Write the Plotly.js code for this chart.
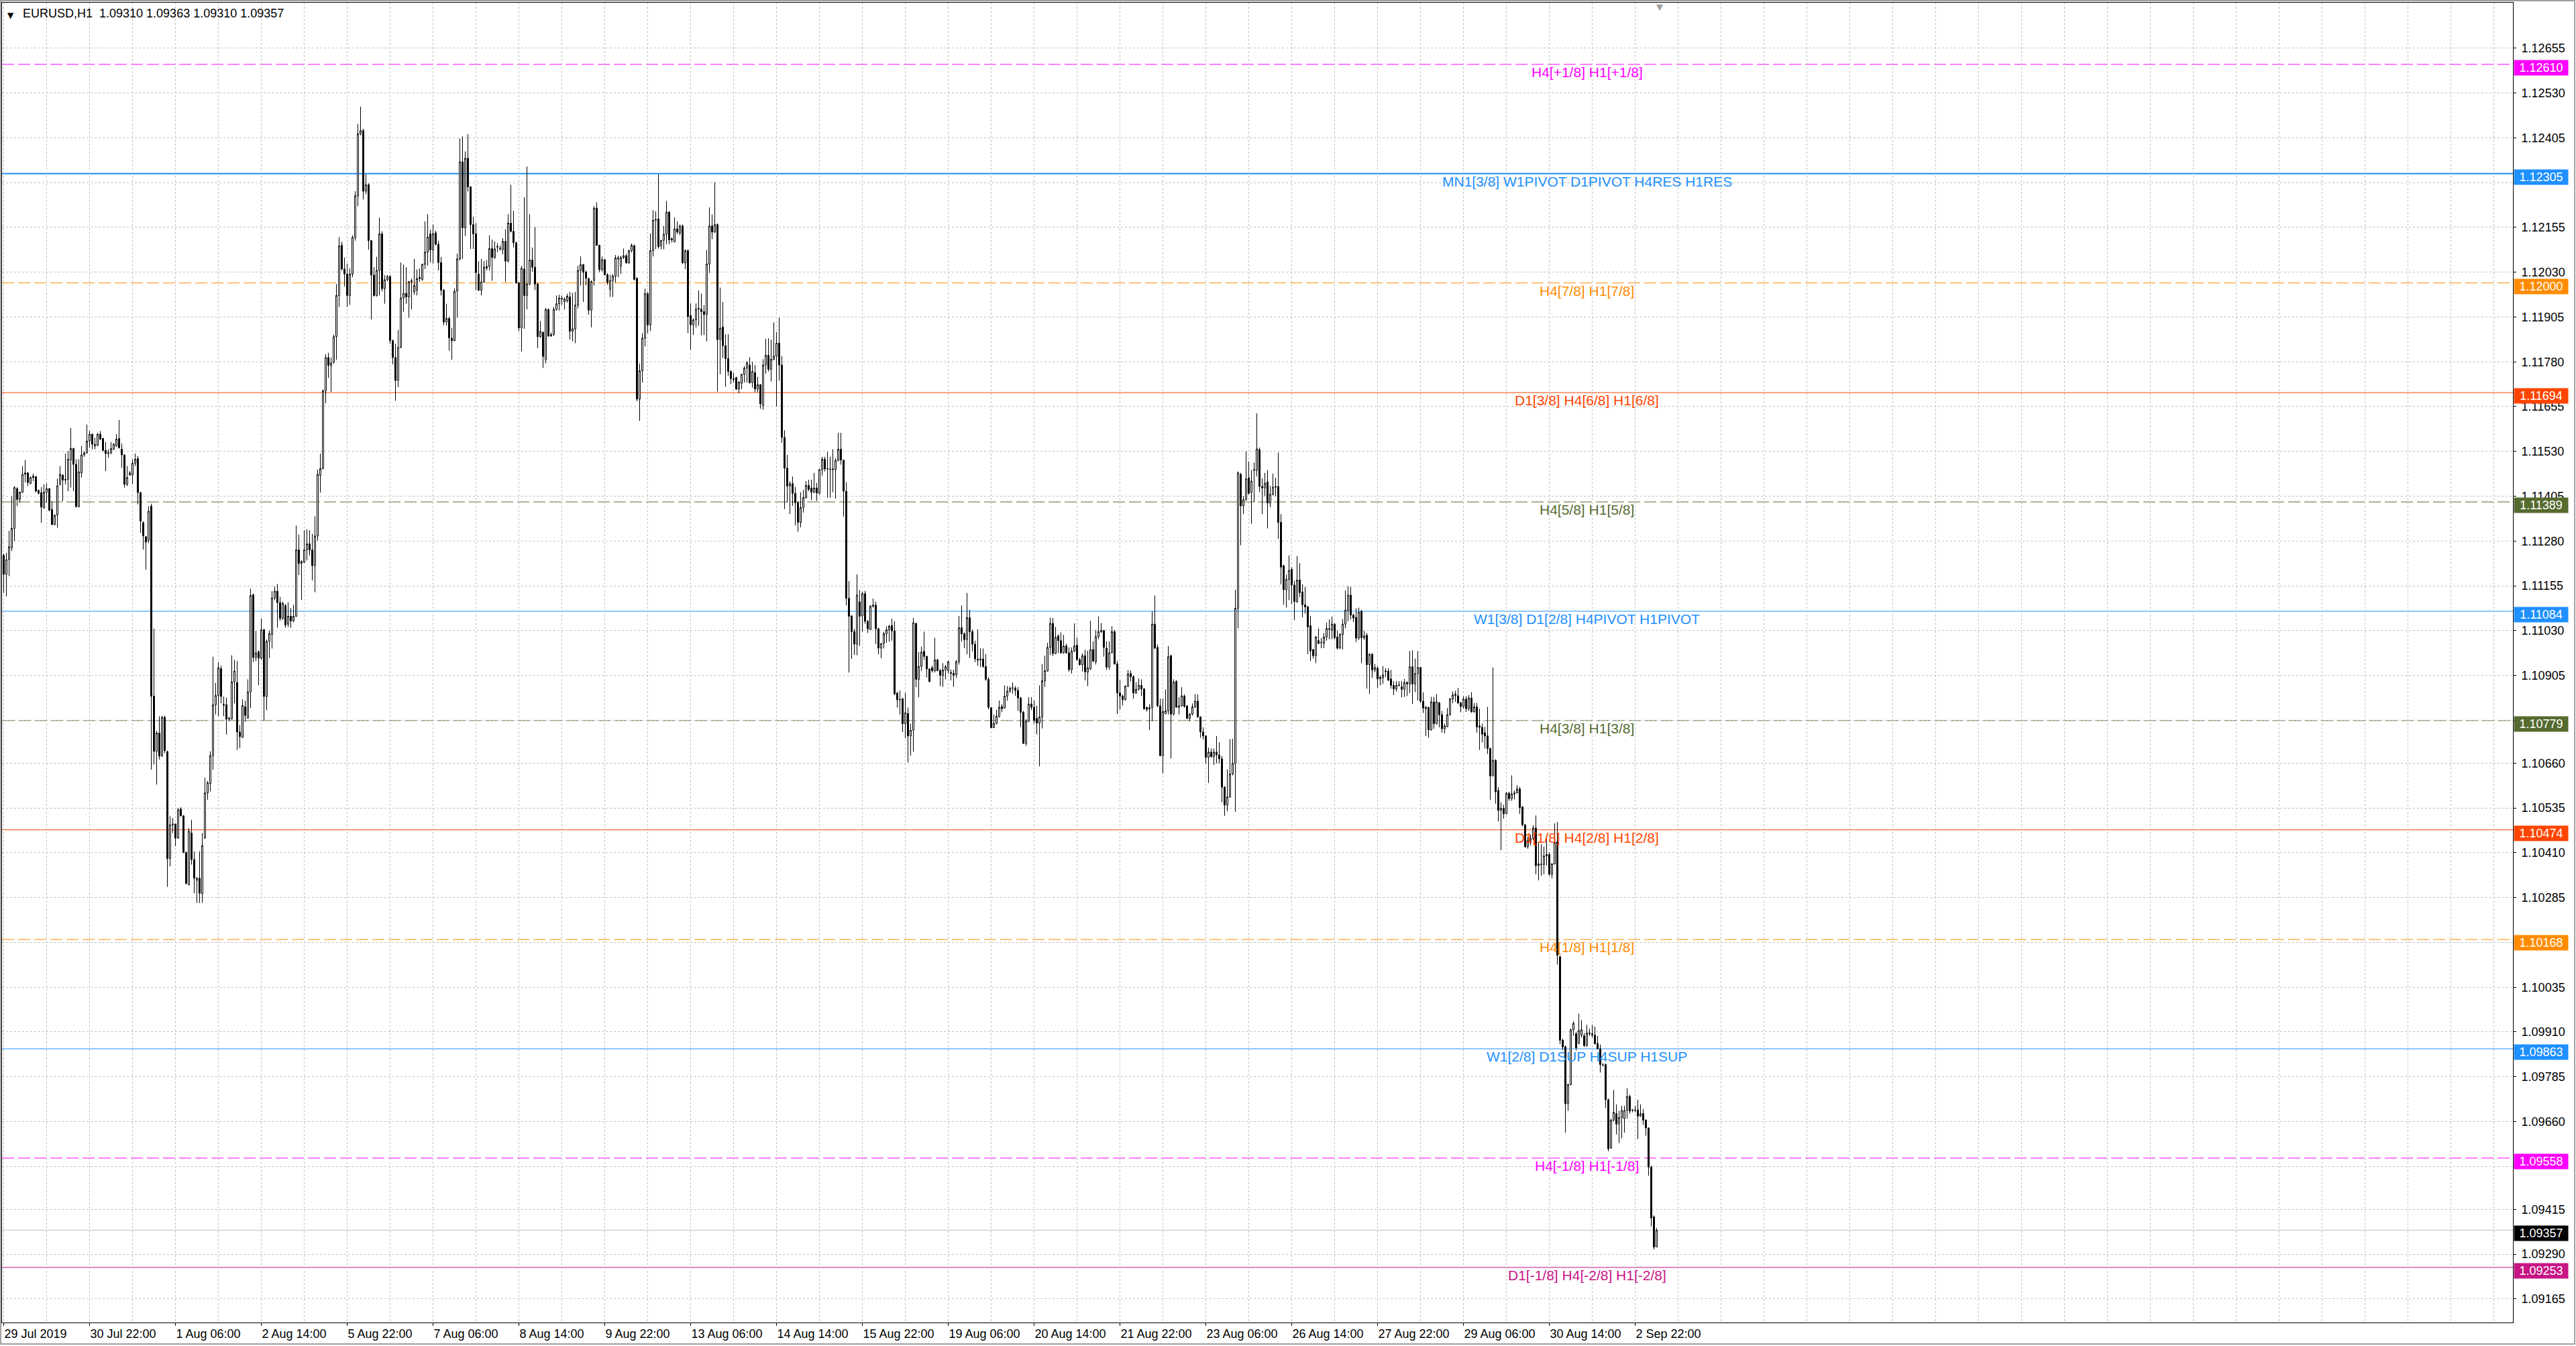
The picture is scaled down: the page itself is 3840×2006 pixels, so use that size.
<!DOCTYPE html>
<html>
<head>
<meta charset="utf-8">
<script src="https://cdn.plot.ly/plotly-3.0.1.min.js"></script>
<style>
  html, body { margin: 0; padding: 0; background: #fff; }
  #chart { width: 3840px; height: 2006px; }
</style>
</head>
<body>
<div id="chart"></div>
<script>
// EURUSD H1 bars, 29 Jul 2019 14:00 .. 3 Sep 2019 06:00
// prices kept as points above 1.00000 (11240 -> 1.11240)
var opens = [
11240,11187,11228,11261,11315,11426,11396,11416,11466,11470,
11441,11457,11459,11421,11415,11373,11416,11426,11368,11326,
11352,11438,11464,11450,11452,11506,11538,11494,11376,11470,
11520,11526,11559,11578,11545,11547,11578,11566,11533,11524,
11526,11536,11545,11566,11536,11520,11438,11464,11464,11497,
11510,11415,11331,11292,11282,11377,10847,10693,10744,10680,
10788,10692,10394,10488,10490,10451,10532,10513,10411,10321,
10465,10391,10333,10339,10296,10451,10577,10603,10681,10823,
10849,10924,10824,10823,10783,10783,10887,10885,10747,10732,
10817,10786,10859,11130,10955,10971,10953,11032,10846,11000,
11019,11121,11140,11108,11064,11100,11048,11070,11057,11070,
11255,11217,11221,11255,11272,11255,11211,11294,11463,11482,
11699,11792,11769,11779,11850,11965,12105,12039,12025,11965,
12025,12127,12243,12416,12425,12256,12274,12118,12022,11965,
12035,12137,11984,12009,12018,11839,11792,11728,11820,11958,
11971,11961,12003,11975,11980,12012,12010,12052,12086,12137,
12092,12140,12108,12057,11980,11891,11901,11846,11839,11977,
12067,12338,12154,12348,12268,12163,12137,12025,11980,12003,
12041,12046,12096,12071,12100,12095,12093,12116,12061,12167,
12144,12112,12000,11875,12039,11965,11997,12064,12044,11997,
11850,11862,11786,11926,11852,11856,11926,11942,11955,11948,
11950,11961,11865,11872,11938,12035,12051,12030,12012,11924,
12007,12209,12105,12037,12065,12023,11982,12007,12019,12067,
12047,12071,12076,12056,12090,12104,12013,11676,11755,11846,
11970,11883,12090,12175,12179,12104,12119,12136,12198,12120,
12115,12151,12140,12159,12056,12090,11909,11883,11897,11927,
11927,11920,11912,12053,12159,12142,12163,11842,11877,11825,
11789,11753,11733,11736,11704,11720,11745,11762,11771,11722,
11750,11704,11716,11658,11771,11798,11759,11787,11796,11832,
11771,11569,11483,11433,11440,11413,11387,11332,11373,11401,
11435,11428,11416,11428,11413,11479,11508,11481,11481,11481,
11479,11505,11536,11506,11419,11120,11071,11027,10992,11110,
11071,11133,11056,11033,11098,11101,11035,10981,10994,11021,
11032,11044,11029,10856,10838,10840,10770,10799,10736,10752,
11050,10894,10930,10972,10958,10923,10926,10918,10948,10918,
10905,10920,10918,10913,10911,10907,10943,11038,11021,11005,
11066,11027,10992,10947,10948,10951,10930,10894,10815,10759,
10771,10791,10818,10814,10847,10861,10869,10869,10863,10842,
10802,10715,10777,10825,10816,10785,10772,10789,10890,10917,
10983,11050,10966,11015,11002,10968,10987,10968,10921,10973,
10989,10949,10935,10960,10914,10923,10977,10943,11013,11027,
11030,10981,10928,10968,11027,10937,10856,10847,10837,10875,
10910,10901,10856,10866,10877,10867,10815,10811,10815,11048,
10983,10820,10681,10798,10806,10960,10797,10888,10816,10820,
10847,10820,10785,10797,10817,10833,10789,10747,10736,10676,
10691,10678,10691,10683,10672,10593,10543,10566,10630,10659,
11092,11466,11378,11395,11456,11416,11477,11477,11535,11432,
11428,11445,11386,11410,11430,11432,11332,11211,11144,11173,
11201,11157,11111,11171,11138,11102,11096,11044,10977,10960,
11002,10996,10994,11012,11033,11031,11048,11012,10981,11019,
11048,11087,11129,11073,11067,11009,11084,11010,11017,10935,
10964,10920,10925,10895,10898,10915,10917,10895,10877,10867,
10877,10873,10866,10885,10881,10929,10881,10910,10927,10833,
10812,10816,10753,10831,10770,10828,10795,10756,10762,10795,
10839,10848,10848,10828,10818,10839,10812,10842,10803,10817,
10764,10760,10745,10736,10701,10626,10668,10584,10528,10534,
10519,10576,10561,10574,10577,10588,10538,10488,10427,10444,
10450,10479,10374,10377,10377,10401,10405,10350,10379,10441,
10120,9887,9869,9710,9763,9916,9905,9878,9901,9899,
9872,9905,9901,9901,9878,9863,9818,9819,9721,9586,
9664,9682,9653,9671,9668,9691,9730,9692,9692,9692,
9675,9682,9664,9642,9533,9394,9310
];
var highs = [
11245,11247,11308,11405,11433,11430,11418,11489,11506,11472,
11460,11468,11462,11424,11430,11438,11440,11428,11391,11354,
11454,11489,11466,11524,11531,11595,11540,11508,11508,11545,
11530,11605,11587,11580,11568,11582,11587,11568,11556,11536,
11556,11553,11578,11618,11552,11522,11489,11475,11508,11524,
11517,11417,11335,11294,11377,11384,11036,10750,10791,10792,
10793,10695,10512,10507,10492,10535,10537,10515,10413,10479,
10502,10414,10342,10414,10465,10619,10610,10693,10957,10884,
10942,10932,10846,10843,10790,10961,10948,10945,10766,10838,
10834,10894,11147,11133,11029,10975,11064,11035,11005,11030,
11140,11153,11160,11124,11111,11104,11109,11093,11102,11323,
11298,11226,11310,11313,11310,11300,11349,11479,11524,11703,
11801,11805,11792,11856,11997,12128,12115,12071,12054,12041,
12133,12256,12444,12492,12430,12303,12278,12120,12044,12073,
12182,12144,12022,12022,12022,11842,11830,11869,12057,12051,
12044,12006,12012,12067,12038,12041,12054,12172,12192,12149,
12163,12146,12118,12073,11983,11942,11905,11875,11985,12082,
12403,12409,12367,12415,12270,12185,12167,12061,12067,12061,
12064,12133,12121,12116,12111,12105,12125,12150,12192,12274,
12201,12115,12003,12048,12239,12325,12192,12099,12156,12000,
11894,11865,11930,11929,11862,11933,11965,11967,11965,11960,
11970,11975,11972,11975,12048,12074,12053,12035,12015,12007,
12214,12225,12107,12074,12067,12027,12023,12025,12078,12076,
12076,12096,12081,12093,12110,12107,12016,11775,11860,11984,
11975,12138,12203,12200,12303,12120,12159,12229,12200,12127,
12183,12172,12163,12163,12094,12094,11943,11901,11943,11979,
11970,11938,12092,12211,12191,12281,12166,11987,11947,11857,
11857,11756,11750,11738,11726,11747,11768,11782,11793,11780,
11771,11738,11718,11787,11844,11846,11842,11890,11863,11903,
11796,11589,11520,11447,11460,11431,11390,11416,11422,11447,
11451,11451,11470,11442,11482,11515,11515,11529,11515,11536,
11511,11582,11582,11507,11444,11168,11072,11035,11187,11143,
11138,11141,11059,11101,11119,11111,11038,10995,11027,11042,
11046,11063,11056,10858,10863,10842,10856,10815,10770,11065,
11052,10970,10985,11027,10960,10925,10932,11010,10951,10923,
10939,10934,10946,10921,10921,10948,11071,11100,11025,11135,
11088,11033,11002,11033,10980,10980,10964,10900,10816,10796,
10809,10835,10825,10877,10875,10874,10885,10875,10872,10845,
10806,10783,10844,10844,10835,10820,10877,10937,10960,10996,
11066,11065,11040,11019,11025,11018,10993,10983,10983,11050,
11010,10954,10966,10977,10974,11057,11000,11032,11070,11051,
11032,11000,11000,11042,11032,10945,10892,10852,10877,10920,
10918,10905,10886,10897,10894,10870,10818,10825,11084,11128,
10991,10840,10840,10866,10987,10962,10894,10892,10844,10872,
10852,10822,10799,10827,10853,10852,10791,10760,10738,10703,
10701,10701,10736,10718,10680,10596,10643,10727,10728,11144,
11474,11470,11405,11530,11502,11478,11499,11636,11541,11455,
11470,11478,11434,11468,11456,11527,11355,11214,11186,11240,
11207,11169,11238,11218,11159,11152,11099,11071,10979,11015,
11036,11009,11023,11052,11061,11069,11051,11031,11023,11062,
11142,11154,11152,11077,11092,11094,11087,11029,11023,10967,
10967,10937,10931,10904,10931,10925,10925,10920,10889,10889,
10889,10889,10895,10889,10973,10975,10952,10973,10929,10858,
10820,10817,10845,10845,10853,10831,10806,10770,10814,10842,
10860,10862,10870,10831,10847,10847,10850,10858,10828,10828,
10812,10770,10761,10817,10703,10927,10671,10593,10551,10544,
10580,10580,10626,10584,10599,10594,10540,10490,10455,10461,
10487,10514,10439,10434,10427,10452,10412,10381,10492,10496,
10122,9891,9872,9766,9919,9940,9910,9961,9943,9907,
9930,9919,9930,9925,9899,9875,9823,9822,9724,9668,
9748,9708,9690,9704,9704,9753,9735,9695,9704,9721,
9708,9695,9666,9644,9537,9398,9363
];
var lows = [
11135,11126,11182,11252,11280,11377,11387,11414,11443,11433,
11438,11447,11416,11410,11331,11370,11387,11363,11324,11324,
11317,11435,11391,11438,11419,11429,11419,11373,11374,11457,
11515,11524,11540,11536,11536,11545,11562,11530,11475,11512,
11522,11534,11543,11538,11484,11429,11433,11462,11438,11489,
11382,11303,11256,11200,11274,10642,10656,10600,10670,10678,
10688,10315,10372,10465,10428,10449,10511,10409,10321,10319,
10377,10297,10270,10270,10270,10449,10558,10581,10642,10796,
10791,10827,10791,10740,10778,10782,10827,10697,10702,10730,
10776,10784,10814,10942,10945,10878,10949,10779,10808,10953,
10980,11115,11038,11057,11060,11038,11040,11038,11053,11068,
11185,11115,11219,11226,11240,11170,11137,11281,11415,11480,
11664,11735,11696,11775,11786,11933,12035,11990,11933,11939,
12016,12118,12214,12412,12233,12248,12093,11898,11962,11962,
11965,11977,11942,12005,11830,11773,11671,11709,11818,11920,
11942,11903,11926,11967,11965,12003,12006,12039,12048,12057,
12054,12105,12035,11965,11882,11882,11811,11786,11837,11903,
12063,12067,12131,12255,12095,12095,11980,11977,11965,12000,
12035,12035,12006,12067,12086,12090,12080,12003,12057,12141,
12099,11998,11865,11809,11872,11926,11993,12031,11980,11818,
11847,11763,11776,11850,11850,11852,11923,11923,11939,11926,
11945,11842,11837,11832,11929,11993,11947,11993,11911,11876,
11993,12104,12030,12032,12021,11995,11961,11961,12001,12016,
12025,12067,12054,12053,12085,12007,11670,11615,11722,11823,
11860,11866,12074,12094,12096,12094,12094,12108,12108,12113,
12113,12136,12133,12053,12039,11860,11814,11855,11876,11881,
11854,11855,11837,12028,12122,12140,11697,11745,11791,11710,
11741,11718,11722,11701,11692,11704,11722,11722,11719,11708,
11695,11695,11649,11646,11747,11753,11725,11784,11655,11727,
11554,11369,11387,11355,11378,11323,11306,11318,11359,11398,
11419,11394,11414,11392,11410,11462,11474,11401,11401,11416,
11398,11502,11493,11348,11100,10913,10951,10962,10961,10987,
11027,11049,11023,11031,11094,10992,10964,10953,10980,10996,
10999,11002,10850,10815,10796,10747,10730,10662,10681,10692,
10872,10844,10917,10948,10899,10886,10913,10913,10917,10875,
10873,10894,10910,10891,10873,10898,10935,10999,10981,10964,
10954,10972,10942,10932,10928,10926,10890,10810,10758,10758,
10768,10787,10802,10812,10834,10856,10854,10848,10806,10761,
10714,10708,10775,10809,10771,10740,10651,10757,10873,10915,
10962,10959,10964,10967,10965,10965,10965,10915,10910,10970,
10945,10932,10916,10891,10875,10920,10942,10935,11006,11023,
10957,10920,10921,10967,10935,10797,10809,10821,10835,10872,
10888,10840,10853,10863,10847,10809,10804,10752,10777,10978,
10816,10679,10632,10797,10796,10673,10793,10815,10796,10818,
10815,10783,10777,10793,10814,10787,10731,10726,10659,10605,
10676,10655,10659,10659,10551,10513,10526,10563,10626,10524,
11036,11268,11355,11393,11410,11328,11388,11460,11416,11355,
11405,11315,11374,11407,11405,11286,11159,11102,11094,11115,
11104,11059,11107,11123,11067,11077,10964,10945,10952,10939,
10992,10981,10981,11002,11006,11006,11006,10977,10979,10977,
11036,11056,11061,11054,10998,11004,10939,11004,10868,10853,
10898,10914,10870,10877,10881,10900,10889,10868,10850,10860,
10874,10843,10845,10847,10856,10825,10858,10835,10828,10800,
10736,10731,10751,10756,10768,10760,10745,10743,10760,10793,
10827,10831,10825,10802,10812,10803,10806,10801,10801,10745,
10697,10718,10701,10686,10558,10622,10547,10497,10417,10505,
10517,10555,10555,10559,10576,10518,10484,10424,10421,10430,
10445,10350,10333,10346,10350,10374,10346,10339,10377,10098,
9876,9859,9629,9690,9761,9899,9859,9876,9894,9868,
9869,9899,9894,9875,9861,9797,9814,9698,9577,9584,
9660,9624,9600,9613,9629,9668,9682,9686,9686,9611,
9673,9651,9620,9509,9367,9303,9310
];
var closes = [
11187,11228,11264,11315,11429,11396,11416,11466,11470,11443,
11457,11461,11419,11413,11375,11416,11426,11366,11326,11352,
11434,11466,11450,11452,11508,11538,11494,11376,11473,11520,
11526,11559,11578,11550,11550,11578,11564,11533,11524,11526,
11538,11550,11564,11540,11520,11438,11457,11470,11497,11508,
11415,11335,11294,11277,11363,10847,10693,10744,10680,10788,
10695,10394,10488,10490,10451,10530,10513,10411,10325,10470,
10391,10339,10339,10297,10430,10577,10605,10681,10823,10849,
10926,10846,10822,10783,10785,10887,10917,10747,10734,10821,
10793,10859,11128,10955,10968,10953,11032,10846,11000,11022,
11121,11140,11108,11064,11106,11045,11070,11057,11070,11255,
11217,11223,11255,11272,11255,11211,11294,11466,11482,11699,
11792,11770,11777,11850,11965,12103,12039,12025,11965,12025,
12127,12243,12416,12425,12256,12274,12118,12022,11965,12035,
12137,11984,12009,12018,11839,11792,11728,11820,11958,11971,
11961,12003,12006,11993,12012,12016,12052,12086,12128,12092,
12137,12108,12057,11980,11891,11901,11847,11839,11977,12067,
12338,12154,12348,12268,12163,12137,12029,11980,12003,12044,
12046,12096,12071,12095,12102,12097,12116,12061,12167,12144,
12112,12000,11875,12041,11965,11997,12064,12044,11997,11850,
11865,11795,11926,11852,11856,11926,11942,11958,11957,11955,
11963,11865,11872,11938,12035,12051,12030,12013,11924,12004,
12209,12105,12037,12065,12023,12002,12007,12019,12070,12070,
12071,12076,12056,12090,12105,12010,11676,11755,11846,11970,
11883,12090,12175,12177,12101,12119,12136,12198,12120,12124,
12151,12142,12159,12056,12090,11906,11883,11897,11927,11929,
11920,11912,12053,12159,12142,12163,11842,11874,11825,11789,
11753,11733,11731,11704,11723,11745,11762,11777,11722,11753,
11704,11716,11663,11771,11798,11759,11787,11796,11832,11771,
11569,11483,11433,11440,11413,11387,11332,11373,11401,11435,
11424,11416,11428,11414,11479,11508,11481,11482,11480,11479,
11505,11536,11506,11419,11120,11070,11027,10992,11129,11070,
11133,11056,11035,11098,11101,11035,10981,10994,11021,11032,
11042,11029,10853,10837,10837,10770,10801,10736,10752,11052,
10894,10930,10970,10958,10923,10888,10918,10948,10918,10905,
10920,10929,10943,10911,10905,10943,11038,11021,11005,11066,
11027,10992,10951,10950,10951,10930,10894,10816,10759,10771,
10791,10816,10812,10847,10861,10869,10870,10863,10842,10802,
10715,10777,10825,10816,10780,10772,10789,10890,10918,10983,
11050,10966,11011,11002,10968,10987,10968,10921,10973,10987,
10949,10935,10960,10915,10926,10977,10945,11013,11027,11030,
10983,10928,10968,11027,10937,10856,10847,10837,10875,10909,
10901,10856,10866,10877,10867,10812,10810,10815,11048,10981,
10820,10681,10804,10806,10957,10797,10886,10816,10820,10848,
10818,10785,10797,10817,10833,10789,10747,10736,10676,10691,
10678,10691,10683,10672,10593,10543,10566,10630,10659,11092,
11470,11378,11395,11453,11413,11447,11479,11537,11432,11428,
11441,11386,11410,11430,11432,11332,11207,11144,11173,11198,
11157,11111,11171,11136,11102,11096,11040,10973,10960,11012,
10994,10997,11012,11036,11035,11048,11010,10981,11019,11048,
11087,11129,11073,11065,11009,11081,11010,11015,10935,10964,
10920,10927,10895,10900,10906,10917,10892,10877,10867,10877,
10878,10866,10885,10881,10929,10881,10910,10927,10833,10814,
10816,10753,10831,10770,10831,10795,10756,10764,10795,10839,
10850,10853,10828,10818,10839,10812,10842,10803,10817,10761,
10760,10741,10736,10701,10624,10668,10580,10528,10534,10519,
10576,10561,10574,10577,10588,10536,10488,10427,10444,10450,
10479,10374,10379,10378,10401,10405,10350,10379,10439,10124,
9887,9868,9710,9763,9916,9934,9866,9914,9916,9872,
9907,9907,9905,9877,9863,9819,9818,9721,9584,9664,
9686,9653,9671,9691,9691,9730,9689,9692,9691,9675,
9682,9664,9642,9533,9391,9310,9357
];

// bottom time scale, one label every 32 bars starting at bar 0
var timeLabels = ["29 Jul 2019", "30 Jul 22:00", "1 Aug 06:00", "2 Aug 14:00", "5 Aug 22:00",
  "7 Aug 06:00", "8 Aug 14:00", "9 Aug 22:00", "13 Aug 06:00", "14 Aug 14:00",
  "15 Aug 22:00", "19 Aug 06:00", "20 Aug 14:00", "21 Aug 22:00", "23 Aug 06:00",
  "26 Aug 14:00", "27 Aug 22:00", "29 Aug 06:00", "30 Aug 14:00", "2 Sep 22:00"];

// price scale labels (blank ones sit under the coloured level tags)
var priceLabels = ["1.12655", "1.12530", "1.12405", "1.12280", "1.12155", "1.12030", "1.11905",
  "1.11780", "1.11655", "1.11530", "1.11405", "1.11280", "1.11155", "1.11030", "1.10905",
  "1.10780", "1.10660", "1.10535", "1.10410", "1.10285", "1.10160", "1.10035", "1.09910",
  "1.09785", "1.09660", "1.09535", "1.09415", "1.09290", "1.09165"];
var hiddenLabels = ["1.12280", "1.10780", "1.10160", "1.09535"];

// murrey / pivot levels drawn by the indicator
var levelPrices = [1.12610, 1.12305, 1.12000, 1.11694, 1.11389, 1.11084, 1.10779,
  1.10474, 1.10168, 1.09863, 1.09558, 1.09253];
var levelNames = ["H4[+1/8] H1[+1/8]", "MN1[3/8] W1PIVOT D1PIVOT H4RES H1RES", "H4[7/8] H1[7/8]",
  "D1[3/8] H4[6/8] H1[6/8]", "H4[5/8] H1[5/8]", "W1[3/8] D1[2/8] H4PIVOT H1PIVOT", "H4[3/8] H1[3/8]",
  "D1[1/8] H4[2/8] H1[2/8]", "H4[1/8] H1[1/8]", "W1[2/8] D1SUP H4SUP H1SUP", "H4[-1/8] H1[-1/8]",
  "D1[-1/8] H4[-2/8] H1[-2/8]"];

// styles for the levels
var levelColors = ["#ff00ff", "#1e90ff", "#ff8c00", "#ff4500", "#556b2f", "#1e90ff", "#556b2f",
  "#ff4500", "#ff8c00", "#1e90ff", "#ff00ff", "#c71585"];
var levelDash = ["18px,6px", "solid", "18px,6px", "solid", "18px,6px", "solid", "18px,6px",
  "solid", "18px,6px", "solid", "18px,6px", "solid"];
var levelWidth = [1, 2, 1, 1, 1, 1, 1, 1, 1, 1, 1, 1];

if (opens.length !== closes.length || highs.length !== closes.length || lows.length !== closes.length) {
  throw new Error("bar arrays differ: " + [opens.length, highs.length, lows.length, closes.length].join(","));
}

function toPrice(v) { return 1 + v / 100000; }

var bars = closes.map(function (c, i) { return i; });
var font = "Liberation Sans, Arial, sans-serif";

var trace = {
  type: "candlestick",
  x: bars,
  open: opens.map(toPrice),
  high: highs.map(toPrice),
  low: lows.map(toPrice),
  close: closes.map(toPrice),
  increasing: { line: { color: "#000000", width: 1 }, fillcolor: "#ffffff" },
  decreasing: { line: { color: "#000000", width: 1 }, fillcolor: "#000000" },
  whiskerwidth: 0,
  hoverinfo: "skip",
  showlegend: false
};

// 4 px per bar; bar centres land on pixel centres
var xMin = -0.625;
var xMax = 935.125;
var majorVals = timeLabels.map(function (t, i) { return i * 32; });
var minorVals = [];
for (var b = 16; b <= xMax; b += 16) {
  if (majorVals.indexOf(b) < 0) minorVals.push(b);
}

var shapes = [];
var annotations = [];

levelPrices.forEach(function (p, i) {
  shapes.push({
    type: "line", xref: "paper", x0: 0, x1: 1, yref: "y", y0: p, y1: p, layer: "below",
    line: { color: levelColors[i], width: levelWidth[i], dash: levelDash[i] }
  });
  annotations.push({
    xref: "paper", x: 0.6313, xanchor: "center", yref: "y", y: p, yanchor: "top", yshift: 2,
    text: levelNames[i], showarrow: false,
    font: { family: font, size: 21, color: levelColors[i] }
  });
  annotations.push({
    xref: "paper", x: 1, xanchor: "left", xshift: 1, yref: "y", y: p, yanchor: "middle", yshift: -5,
    text: p.toFixed(5), showarrow: false, bgcolor: levelColors[i], width: 76, height: 18, borderpad: 2,
    font: { family: font, size: 18, color: "#ffffff" }
  });
});

// bid line and tag
var bid = toPrice(closes[closes.length - 1]);
shapes.push({
  type: "line", xref: "paper", x0: 0, x1: 1, yref: "y", y0: bid, y1: bid, layer: "below",
  line: { color: "#c0c0c0", width: 1 }
});
annotations.push({
  xref: "paper", x: 1, xanchor: "left", xshift: 1, yref: "y", y: bid, yanchor: "middle", yshift: -5,
  text: bid.toFixed(5), showarrow: false, bgcolor: "#000000", width: 76, height: 18, borderpad: 2,
  font: { family: font, size: 18, color: "#ffffff" }
});

// window frame
shapes.push({
  type: "rect", xref: "paper", yref: "paper", x0: -0.0005, x1: 1.0246, y0: -0.0163, y1: 1.0015,
  line: { color: "#a0a0a0", width: 2 }, layer: "below"
});

// chart header
var last = closes.length - 1;
annotations.push({
  xref: "paper", x: 0, xanchor: "left", xshift: 6, yref: "paper", y: 1, yanchor: "top", yshift: -10,
  text: "\u25BC", showarrow: false, font: { family: "DejaVu Sans, sans-serif", size: 12, color: "#000000" }
});
annotations.push({
  xref: "paper", x: 0, xanchor: "left", xshift: 29, yref: "paper", y: 1, yanchor: "top", yshift: -4,
  text: "EURUSD,H1\u00a0\u00a0" + [opens[last], highs[last], lows[last], closes[last]].map(function (v) {
    return toPrice(v).toFixed(5);
  }).join(" "),
  showarrow: false, font: { family: font, size: 18, color: "#000000" }
});
// chart shift marker
annotations.push({
  xref: "paper", x: 0.6602, xanchor: "center", yref: "paper", y: 1, yanchor: "top", yshift: 3,
  text: "\u25BC", showarrow: false, font: { family: "DejaVu Sans, sans-serif", size: 13, color: "#a0a0a0" }
});

var layout = {
  width: 3840,
  height: 2006,
  margin: { l: 3, r: 94, t: 4, b: 35, pad: 0, autoexpand: false },
  paper_bgcolor: "#ffffff",
  plot_bgcolor: "#ffffff",
  showlegend: false,
  dragmode: false,
  xaxis: {
    range: [xMin, xMax],
    tickmode: "array",
    tickvals: majorVals,
    ticktext: timeLabels,
    ticks: "outside",
    ticklen: 4,
    tickcolor: "#000000",
    ticklabelposition: "outside right",
    tickfont: { family: font, size: 18, color: "#000000" },
    showgrid: true,
    gridcolor: "#c0c0c0",
    griddash: "3px,3px",
    minor: { tickvals: minorVals, showgrid: true, gridcolor: "#c0c0c0", griddash: "3px,3px", ticks: "" },
    showline: true,
    linecolor: "#000000",
    linewidth: 1,
    mirror: true,
    zeroline: false,
    rangeslider: { visible: false },
    fixedrange: true
  },
  yaxis: {
    side: "right",
    range: [1.090992, 1.127821],
    tickmode: "array",
    tickvals: priceLabels.map(Number),
    ticktext: priceLabels.map(function (t) { return hiddenLabels.indexOf(t) < 0 ? t : ""; }),
    ticks: "outside",
    ticklen: 4,
    tickcolor: "#000000",
    ticklabelstandoff: 4,
    tickfont: { family: font, size: 18, color: "#000000" },
    showgrid: true,
    gridcolor: "#c0c0c0",
    griddash: "3px,3px",
    showline: true,
    linecolor: "#000000",
    linewidth: 1,
    mirror: true,
    zeroline: false,
    fixedrange: true
  },
  shapes: shapes,
  annotations: annotations
};

Plotly.newPlot("chart", [trace], layout, { staticPlot: true, displayModeBar: false });
</script>
</body>
</html>
